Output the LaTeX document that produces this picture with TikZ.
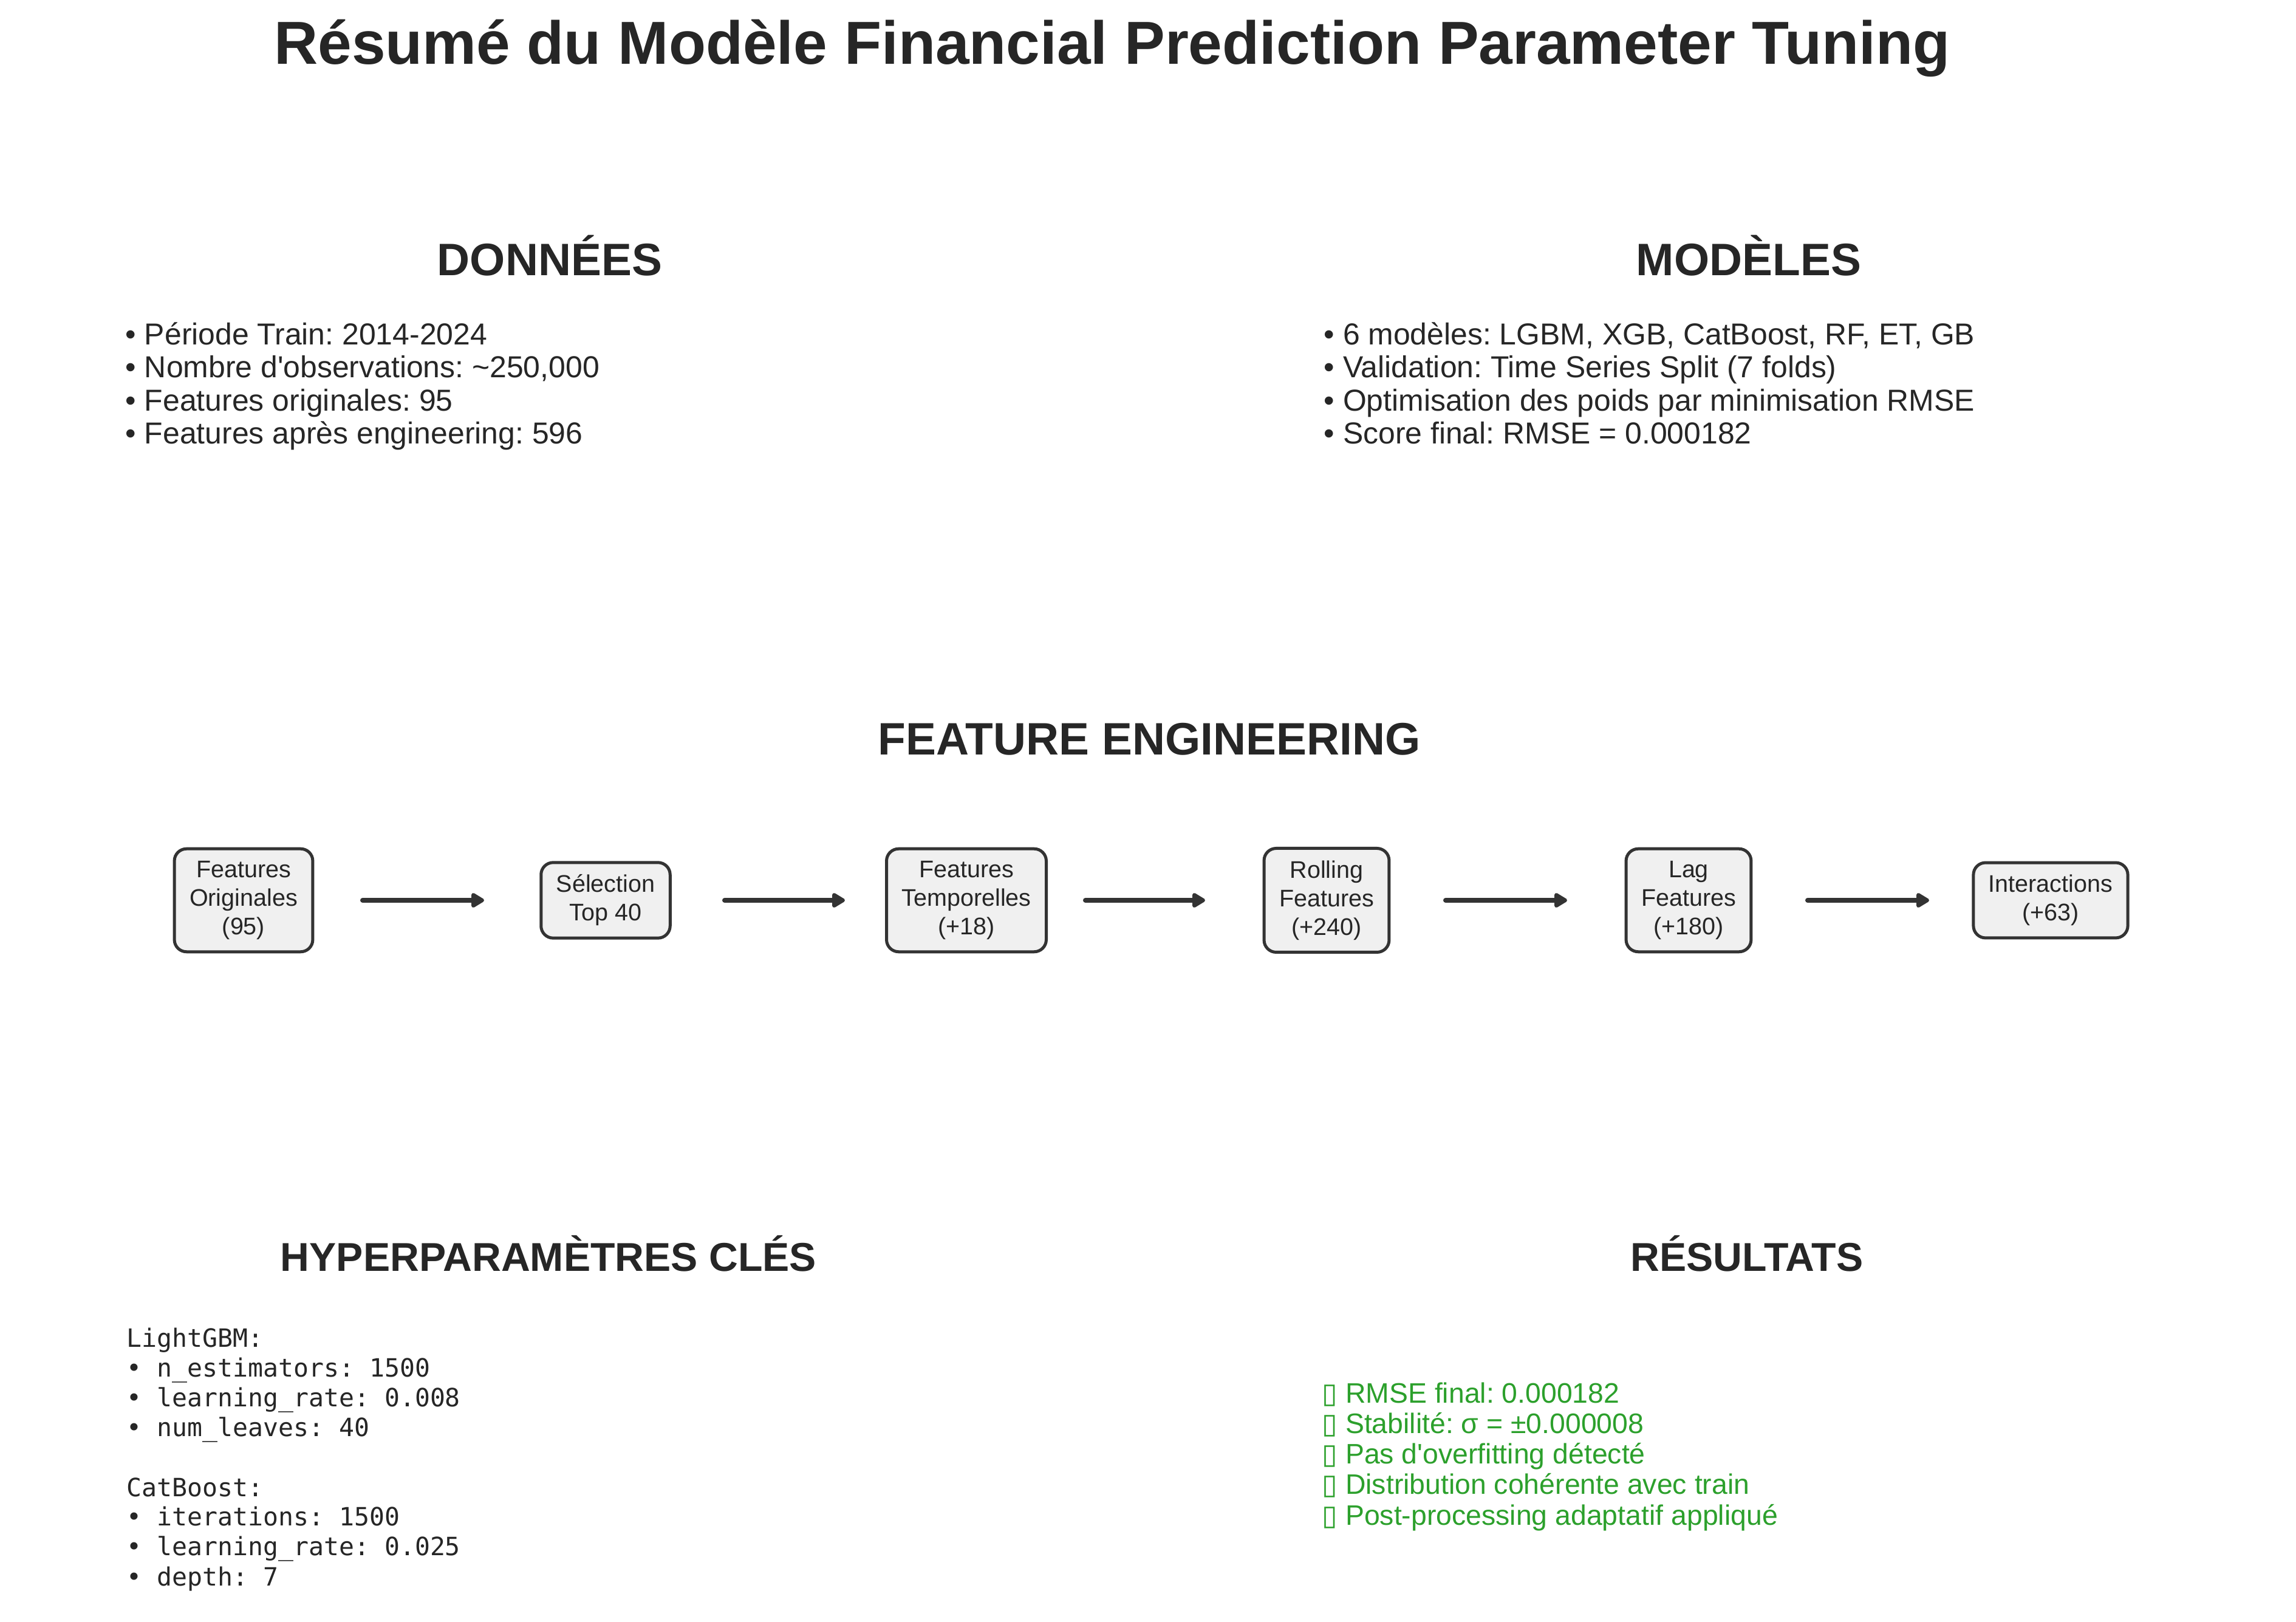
\documentclass[tikz,border=0pt]{standalone}
\usepackage{fontspec}
\setmainfont{Liberation Sans}
\setmonofont{DejaVu Sans Mono}
\newfontfamily\symfont{DejaVu Sans}
\usepackage{xcolor}
\usetikzlibrary{arrows.meta}

\definecolor{inkgray}{HTML}{262626}
\definecolor{boxgray}{HTML}{F0F0F0}
\definecolor{edgegray}{HTML}{333333}
\definecolor{okgreen}{HTML}{2CA02C}

\frenchspacing

\tikzset{
  maintitle/.style={font=\bfseries\fontsize{28.45}{34}\selectfont, text=inkgray, anchor=base, inner sep=0},
  secttitle/.style={font=\bfseries\fontsize{21.3}{26}\selectfont, text=inkgray, anchor=base, inner sep=0},
  subtitle/.style={font=\bfseries\fontsize{18.85}{23}\selectfont, text=inkgray, anchor=base, inner sep=0},
  bodyline/.style={font=\fontsize{14.2}{17}\selectfont, text=inkgray, anchor=base west, inner sep=0},
  codeline/.style={font=\ttfamily\fontsize{11.8}{14}\selectfont, text=inkgray, anchor=base west, inner sep=0},
  okline/.style={font=\fontsize{13.2}{15.8}\selectfont, text=okgreen, anchor=base west, inner sep=0},
  stage/.style={draw=edgegray, fill=boxgray, line width=0.05cm, rounded corners=0.2cm, align=center,
    font=\fontsize{11.24}{13.4}\selectfont, text=inkgray, inner xsep=0.25cm, inner ysep=0.2cm},
  flow/.style={draw=edgegray, fill=edgegray, line width=0.08cm, line cap=round,
    -{Triangle[round,length=0.24cm,width=0.27cm]}, shorten <=1.96cm, shorten >=2cm}
}

\begin{document}
\begin{tikzpicture}

	\useasboundingbox (0,0) rectangle (37.8,26.69);

	% Title
	\node[maintitle] (title) at (18.31,25.63) {Résumé du Modèle Financial Prediction Parameter Tuning};

	% Donnees
	\node[secttitle] (hdata) at (9.05,22.155) {DONNÉES};
	\node[bodyline] (d1) at (2.06,21.015) {• Période Train: 2014-2024};
	\node[bodyline] (d2) at (2.06,20.475) {• Nombre d\textquotesingle observations: \textasciitilde250,000};
	\node[bodyline] (d3) at (2.06,19.925) {• Features originales: 95};
	\node[bodyline] (d4) at (2.06,19.385) {• Features après engineering: 596};

	% Modeles
	\node[secttitle] (hmod) at (28.79,22.155) {MODÈLES};
	\node[bodyline] (m1) at (21.79,21.015) {• 6 modèles: LGBM, XGB, CatBoost, RF, ET, GB};
	\node[bodyline] (m2) at (21.79,20.475) {• Validation: Time Series Split (7 folds)};
	\node[bodyline] (m3) at (21.79,19.925) {• Optimisation des poids par minimisation RMSE};
	\node[bodyline] (m4) at (21.79,19.385) {• Score final: RMSE = 0.000182};

	% Feature engineering
	\node[secttitle] (hfeat) at (18.92,14.26) {FEATURE ENGINEERING};
	\node[stage] (orig)  at (4.01,11.87)  {Features\\Originales\\(95)};
	\node[stage] (sel)   at (9.97,11.87)  {Sélection\\Top 40};
	\node[stage] (temp)  at (15.91,11.87) {Features\\Temporelles\\(+18)};
	\node[stage] (roll)  at (21.84,11.87) {Rolling\\Features\\(+240)};
	\node[stage] (lag)   at (27.80,11.87) {Lag\\Features\\(+180)};
	\node[stage] (inter) at (33.76,11.87) {Interactions\\(+63)};

	% Arrows
	\draw[flow] (orig.center) -- (sel.center);
	\draw[flow] (sel.center) -- (temp.center);
	\draw[flow] (temp.center) -- (roll.center);
	\draw[flow] (roll.center) -- (lag.center);
	\draw[flow] (lag.center) -- (inter.center);

	% Hyperparametres
	\node[subtitle] (hhyp) at (9.03,5.76) {HYPERPARAMÈTRES CLÉS};
	\node[codeline] (c1) at (2.08,4.51) {LightGBM:};
	\node[codeline] (c2) at (2.08,4.02) {• n\_estimators: 1500};
	\node[codeline] (c3) at (2.08,3.53) {• learning\_rate: 0.008};
	\node[codeline] (c4) at (2.08,3.04) {• num\_leaves: 40};
	\node[codeline] (c5) at (2.08,2.06) {CatBoost:};
	\node[codeline] (c6) at (2.08,1.57) {• iterations: 1500};
	\node[codeline] (c7) at (2.08,1.08) {• learning\_rate: 0.025};
	\node[codeline] (c8) at (2.08,0.59) {• depth: 7};

	% Resultats
	\node[subtitle] (hres) at (28.76,5.76) {RÉSULTATS};
	\node[okline] (r1) at (21.76,3.59) {{\symfont ▯} RMSE final: 0.000182};
	\node[okline] (r2) at (21.76,3.09) {{\symfont ▯} Stabilité: σ = ±0.000008};
	\node[okline] (r3) at (21.76,2.59) {{\symfont ▯} Pas d\textquotesingle overfitting détecté};
	\node[okline] (r4) at (21.76,2.09) {{\symfont ▯} Distribution cohérente avec train};
	\node[okline] (r5) at (21.76,1.59) {{\symfont ▯} Post-processing adaptatif appliqué};

\end{tikzpicture}
\end{document}
